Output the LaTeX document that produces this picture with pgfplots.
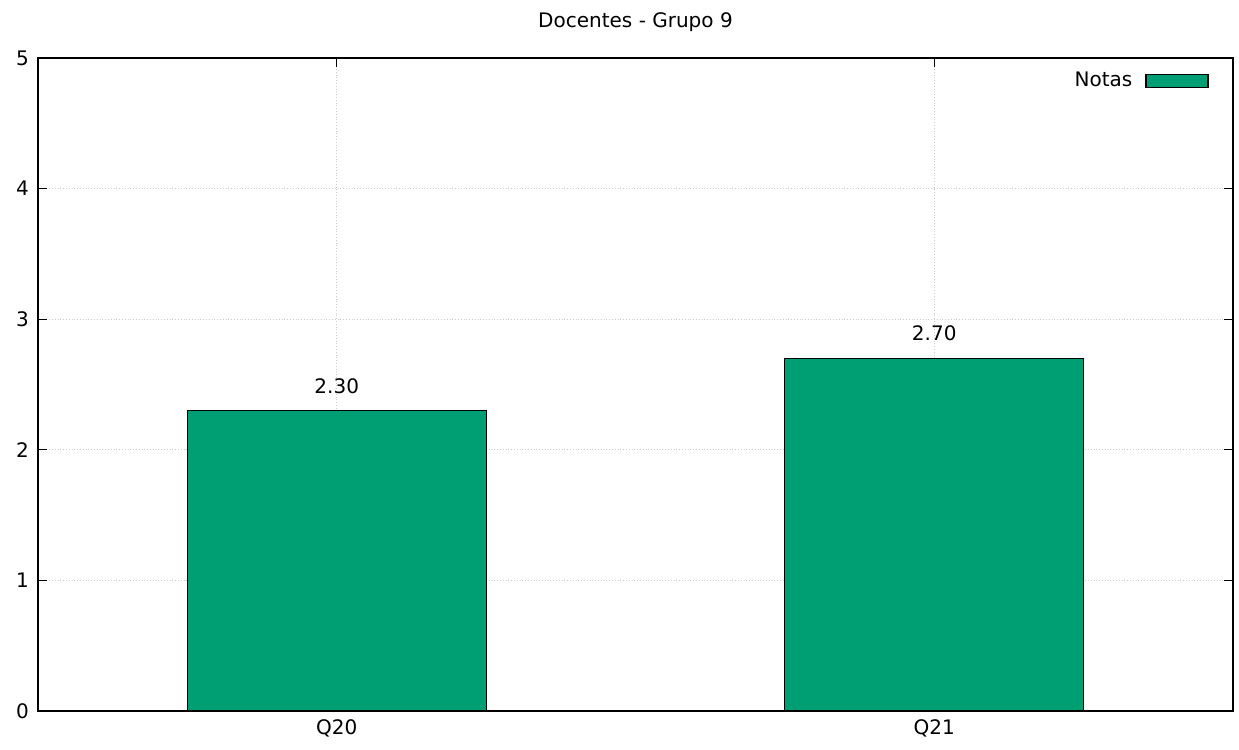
\documentclass[border=0pt]{standalone}
\usepackage{pgfplots}
\pgfplotsset{compat=1.18}
\usepackage{fontspec}
\setmainfont{DejaVu Sans}
\definecolor{gnugreen}{HTML}{009E73}
\begin{document}
\fontsize{10}{12}\selectfont
\begin{tikzpicture}
\useasboundingbox (-19pt,-19.5pt) rectangle (600.5pt,355.5pt);
\begin{axis}[
  at={(0,0)}, anchor=south west,
  scale only axis,
  width=597.5pt, height=326.5pt,
  xmin=-0.5, xmax=1.5, ymin=0, ymax=5,
  xtick={0,1}, xticklabels={Q20,Q21},
  ytick={0,1,2,3,4,5},
  tick align=inside,
  major tick length=4.5pt,
  tick style={black, line width=0.6pt},
  axis line style={line width=0.6pt},
  grid=major,
  grid style={gray!40, densely dotted, line width=0.4pt},
  /pgf/number format/assume math mode=true,
  tick label style={font=\fontsize{10}{12}\selectfont},
  xticklabel style={yshift=-1pt},
  yticklabel style={xshift=-1pt},
  title={Docentes - Grupo 9},
  title style={font=\fontsize{10}{12}\selectfont, yshift=3.5pt},
  legend style={draw=none, fill=none, at={(1,1)}, anchor=north east,
    xshift=-9pt, yshift=-3pt, font=\fontsize{10}{12}\selectfont,
    legend cell align=right},
  legend plot pos=right,
  legend image code/.code={\path (0pt,0pt); \draw[fill=gnugreen, draw=black, line width=0.6pt] (4.5pt,-3.25pt) rectangle (35.5pt,3.25pt);},
  nodes near coords={\pgfmathprintnumber[fixed,fixed zerofill,precision=2]{\pgfplotspointmeta}},
  every node near coord/.append style={font=\fontsize{10}{12}\selectfont, yshift=5pt, black},
]
\addplot[ybar, bar width=0.5, fill=gnugreen, draw=black, line width=0.6pt]
  coordinates {(0,2.3) (1,2.7)};
\addlegendentry{Notas}
\end{axis}
\end{tikzpicture}
\end{document}
